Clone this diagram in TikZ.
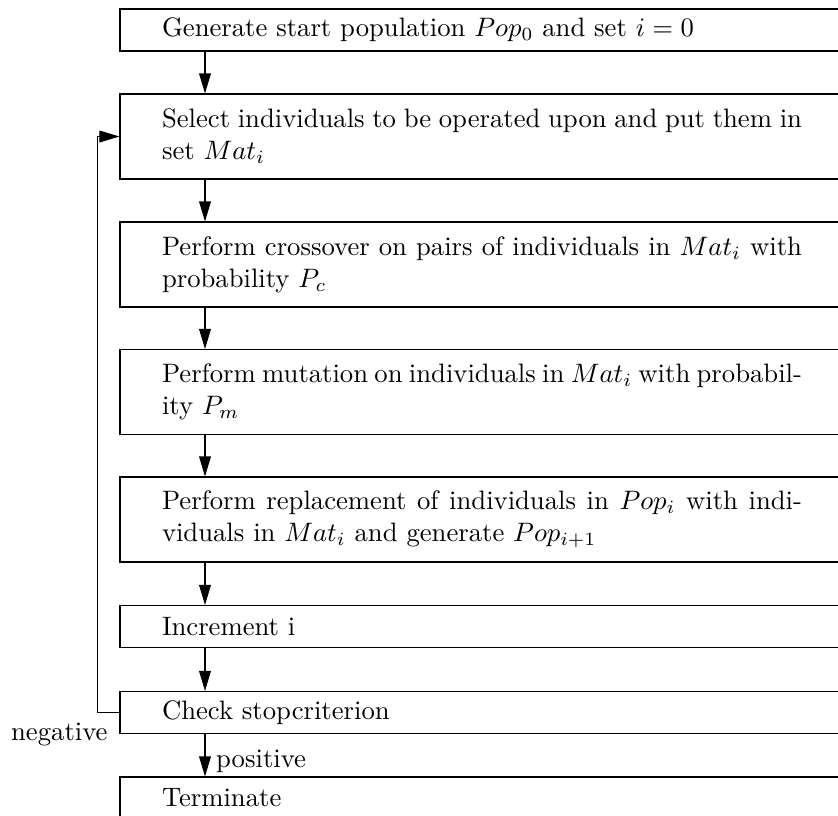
\documentclass[tikz,border=0pt]{standalone}
\usetikzlibrary{arrows.meta}
\tikzset{
  stage/.style={draw, line width=0.4pt, rectangle, inner xsep=15.75pt, inner ysep=0pt,
    text width=240pt, align=justify, anchor=center, font=\normalsize},
  oneline/.style={stage, minimum height=15.75pt},
  twoline/.style={stage, minimum height=31.875pt},
  flow/.style={line width=0.4pt, -{Triangle[length=7.5pt, width=4.4pt]}},
  tag/.style={inner sep=0pt, font=\normalsize}
}
\begin{document}
\begin{tikzpicture}[x=0.375pt, y=-0.375pt]
  \useasboundingbox (0,0) rectangle (838,816);
  \clip (0,0) rectangle (838,816);
  \coordinate (ax) at (205,0);

  \node[oneline] (b1) at (482,30)
    {Generate start population $Pop_0$ and set $i=0$};
  \node[twoline] (b2) at (482,136.5)
    {Select individuals to be operated upon and put them in\linebreak set $Mat_i$};
  \node[twoline] (b3) at (482,264.5)
    {Perform crossover on pairs of individuals in $Mat_i$ with\linebreak probability $P_c$};
  \node[twoline] (b4) at (482,392)
    {Perform mutation on individuals in $Mat_i$ with probabil-\linebreak ity $P_m$};
  \node[twoline] (b5) at (482,519.5)
    {Perform replacement of individuals in $Pop_i$ with indi-\linebreak viduals in $Mat_i$ and generate $Pop_{i+1}$};
  \node[oneline] (b6) at (482,626.5) {Increment i};
  \node[oneline] (b7) at (482,712.5) {Check stopcriterion};
  \node[oneline] (b8) at (482,798) {Terminate};

  \draw[flow] (b1.south -| ax) -- (b2.north -| ax);
  \draw[flow] (b2.south -| ax) -- (b3.north -| ax);
  \draw[flow] (b3.south -| ax) -- (b4.north -| ax);
  \draw[flow] (b4.south -| ax) -- (b5.north -| ax);
  \draw[flow] (b5.south -| ax) -- (b6.north -| ax);
  \draw[flow] (b6.south -| ax) -- (b7.north -| ax);
  \draw[flow] (b7.south -| ax) -- (b8.north -| ax)
    node[tag, pos=0.79, anchor=base west, xshift=4pt] {positive};

  \draw[flow] (b7.west) -- ++(-22,0) |- (b2.west);
  \node[tag, anchor=base east] (neg) at (108,740) {negative};
\end{tikzpicture}
\end{document}
